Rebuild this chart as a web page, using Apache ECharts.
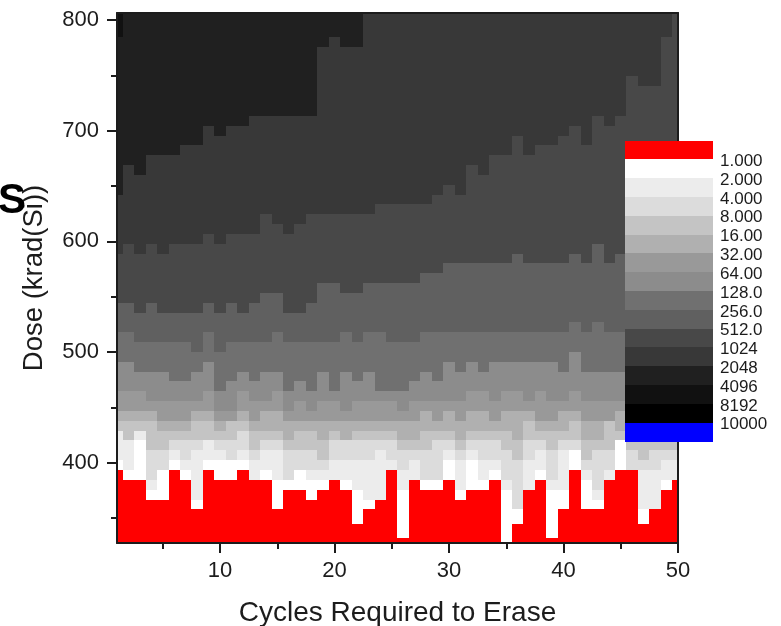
<!DOCTYPE html>
<html><head><meta charset="utf-8">
<style>html,body{margin:0;padding:0;background:#fff}#c{width:781px;height:626px}</style>
<script src="https://cdn.jsdelivr.net/npm/echarts@6/dist/echarts.min.js"></script>
</head><body><div id="c"></div>
<script>
const cycles = [1,2,3,4,5,6,7,8,9,10,11,12,13,14,15,16,17,18,19,20,21,22,23,24,25,26,27,28,29,30,31,32,33,34,35,36,37,38,39,40,41,42,43,44,45,46,47,48,49,50];
const doseMin = 327.5, doseMax = 806.3;
const rowIds = [-8,-7,-5.5,-4,-3,-2,-1,0,1,2,3,4,5,6,7,8,9,10,11,12,13,14,15,16,17,18,19,20,21,22,23,24,25,26,27,28,29,30,31,32,33,34,35,36,37,38,39,40,41,42,43,44,45,46,47];
const rowDoses = [327.5,332,344.6,357.8,366.7,375.6,384.5,393.4,402.3,411.2,420.1,429,437.8,446.7,455.6,464.5,473.4,482.3,491.2,500.1,509,517.8,526.7,535.6,544.5,553.4,562.3,571.2,580.1,589,597.8,606.7,615.6,624.5,633.4,642.3,651.2,660.1,669,677.8,686.7,695.6,704.5,713.4,722.3,731.2,740.1,749,757.8,766.7,775.6,784.5,793.4,802.3,806.3];
// top row of each contour band, per cycle column
const redTop = [0,-1,-1,-3,-3,0,-1,-4,0,-1, -1,0,-1,-1,-4,-2,-2,-3,-2,-1, -2,-5.5,-4,-3,0,-7,-1,-2,-2,-1, -3,-2,-2,-1,-8,-5.5,-2,-1,-7,-4, 0,-4,-4,-1,0,0,-5.5,-4,-2,-1];
const whiteTop = [1,0,3,-2,0,1,0,-3,1,1, 1,1,-1,0,-1,-1,0,-1,-1,-1, -1,-2,-3,-3,0,-2,-1,-1,-1,1, -2,1,-1,0,-2,-4,-2,0,-2,-2, 2,-1,-3,-1,3,0,-4,-4,-1,-1];
const g236Top = [4,3,4,-1,0,2,1,2,3,2, 1,2,1,2,2,-1,0,0,0,1, 1,1,1,2,1,0,1,-1,-1,2, 1,2,1,1,-1,-4,1,2,-1,2, 2,0,-2,0,3,0,0,0,1,1];
const g220Top = [4,3,4,2,2,3,3,3,3,3, 3,4,2,3,3,2,2,2,1,3, 3,3,3,3,3,2,2,2,3,3, 2,3,3,3,2,1,3,3,2,3, 3,1,2,2,3,2,1,2,2,2];
const g196Top = [5,5,5,5,4,4,4,5,5,4, 5,5,4,4,4,3,4,4,3,4, 3,4,4,4,4,3,3,4,4,4, 3,4,4,4,4,3,5,4,4,4, 5,3,3,5,4,4,4,4,4,4];
const g176Top = [6,6,6,6,5,5,5,6,6,5, 5,6,5,6,6,5,5,5,5,5, 5,5,5,5,5,5,5,6,5,6, 5,6,6,5,6,6,6,5,5,6, 6,5,5,5,6,5,5,5,5,5];
const g153Top = [8,8,8,7,7,7,7,7,8,6, 6,8,7,7,8,6,7,6,7,7, 6,7,7,7,7,6,7,7,7,7, 7,8,8,7,8,8,7,8,7,7, 8,7,7,7,7,7,7,7,7,7];
const g140Top = [11,11,10,10,10,9,9,10,11,8, 9,10,9,10,10,8,9,8,10,8, 10,9,10,8,8,8,9,10,9,11, 10,11,10,11,11,11,11,11,11,10, 12,10,10,10,10,10,10,10,10,10];
const g112Top = [14,14,13,13,13,13,13,12,14,12, 13,13,13,13,14,13,13,13,13,13, 14,13,14,14,13,13,13,14,14,14, 14,14,14,14,14,14,14,14,14,14, 15,14,15,14,14,14,14,14,14,14];
const g96Top = [17,17,16,17,16,16,16,16,17,16, 17,16,17,18,18,16,16,17,19,19, 18,18,19,19,19,19,19,20,20,21, 21,21,21,21,21,22,21,21,21,21, 22,21,23,21,22,22,22,22,22,22];
const g72Top = [22,23,22,23,22,23,23,23,24,23, 24,24,24,26,25,24,25,26,26,26, 26,26,26,27,27,27,27,27,28,29, 28,31,30,32,32,34,32,33,33,34, 35,33,36,35,36,40,39,39,44,47];
const g56Top = [28,31,30,32,32,32,33,33,35,34, 35,35,36,36,36,36,36,36,43,44, 43,43,47,47,47,47,47,47,47,47, 47,47,47,47,47,47,47,47,47,47, 47,47,47,47,47,47,47,47,47,47];
const g32Top = [44,47,47,47,47,47,47,47,47,47, 47,47,47,47,47,47,47,47,47,47, 47,47,47,47,47,47,47,47,47,47, 47,47,47,47,47,47,47,47,47,47, 47,47,47,47,47,47,47,47,47,47];
const g17Top = cycles.map(() => 47);
const bandTops = [g17Top,g32Top,g56Top,g72Top,g96Top,g112Top,g140Top,g153Top,g176Top,g196Top,g220Top,g236Top,whiteTop,redTop];
const bandColors = ['#111111','#202020','#383838','#484848','#606060','#707070','#8c8c8c','#999999','#b0b0b0','#c4c4c4','#dcdcdc','#ececec','#ffffff','#ff0000'];
const legendColors = ['#ff0000','#ffffff','#ececec','#dcdcdc','#c4c4c4','#b0b0b0','#999999','#8c8c8c','#707070','#606060','#484848','#383838','#202020','#111111','#000000','#0000ff'];
const legendLabels = ['1.000','2.000','4.000','8.000','16.00','32.00','64.00','128.0','256.0','512.0','1024','2048','4096','8192','10000'];
const xMajor = [10,20,30,40,50], xMinor = [5,15,25,35,45];
const yMajor = [400,500,600,700,800], yMinor = [350,450,550,650,750];

const cells = [];
bandTops.forEach((tops, b) => tops.forEach((row, i) => {
  cells.push([cycles[i], rowDoses[rowIds.indexOf(row)], b]);
}));
const font = '"Liberation Sans", Arial, sans-serif';
const ink = '#1c1c1c';
const hidden = {axisLine:{show:false},axisTick:{show:false},axisLabel:{show:false},splitLine:{show:false}};
const chart = echarts.init(document.getElementById('c'), null, {renderer:'canvas'});
chart.setOption({
  animation:false, backgroundColor:'#fff',
  title:{text:'S', left:-7, top:175, textStyle:{fontFamily:font,fontWeight:'bold',fontSize:42,color:'#000'}},
  grid:[
    {left:117,top:13,width:561,height:530,show:false,outerBoundsMode:'none'},
    {left:625,top:140.5,width:88,height:301,show:false,outerBoundsMode:'none'},
    {left:625,top:142.5,width:88,height:301,show:false,outerBoundsMode:'none'}
  ],
  xAxis:[
    {type:'value',gridIndex:0,min:1,max:50,position:'bottom',z:5,splitLine:{show:false},
     axisLine:{onZero:false,lineStyle:{color:ink,width:2}},
     axisTick:{customValues:xMajor,length:10,lineStyle:{color:ink,width:2}},
     axisLabel:{customValues:xMajor,fontFamily:font,fontSize:22,color:ink,margin:17},
     name:'Cycles Required to Erase',nameLocation:'middle',nameGap:56,nameTextStyle:{fontFamily:font,fontSize:28,color:ink}},
    {type:'value',gridIndex:0,min:1,max:50,position:'bottom',z:5,splitLine:{show:false},axisLine:{show:false,onZero:false},axisLabel:{show:false},
     axisTick:{customValues:xMinor,length:6,lineStyle:{color:ink,width:2}}},
    {type:'value',gridIndex:0,min:1,max:50,position:'top',z:5,splitLine:{show:false},axisTick:{show:false},axisLabel:{show:false},
     axisLine:{onZero:false,lineStyle:{color:ink,width:2}}},
    Object.assign({type:'value',gridIndex:1,min:0,max:1},hidden),
    Object.assign({type:'value',gridIndex:2,min:0,max:1},hidden)
  ],
  yAxis:[
    {type:'value',gridIndex:0,min:doseMin,max:doseMax,position:'left',z:5,splitLine:{show:false},
     axisLine:{onZero:false,lineStyle:{color:ink,width:2}},
     axisTick:{customValues:yMajor,length:10,lineStyle:{color:ink,width:2}},
     axisLabel:{customValues:yMajor,fontFamily:font,fontSize:22,color:ink,margin:18},
     name:'Dose (krad(Si))',nameLocation:'middle',nameGap:69,nameTextStyle:{fontFamily:font,fontSize:27.5,color:ink}},
    {type:'value',gridIndex:0,min:doseMin,max:doseMax,position:'left',z:5,splitLine:{show:false},axisLine:{show:false,onZero:false},axisLabel:{show:false},
     axisTick:{customValues:yMinor,length:6,lineStyle:{color:ink,width:2}}},
    {type:'value',gridIndex:0,min:doseMin,max:doseMax,position:'right',z:5,splitLine:{show:false},axisTick:{show:false},axisLabel:{show:false},
     axisLine:{onZero:false,lineStyle:{color:ink,width:2}}},
    Object.assign({type:'value',gridIndex:1,min:0,max:16,inverse:true},hidden),
    {type:'value',gridIndex:2,min:0,max:16,interval:1,inverse:true,position:'right',z:20,splitLine:{show:false},axisLine:{show:false},axisTick:{show:false},
     axisLabel:{show:true,margin:7,fontFamily:font,fontSize:17,color:ink,formatter:v=>legendLabels[v-1]||''}}
  ],
  series:[
    {type:'custom',xAxisIndex:0,yAxisIndex:0,z:2,clip:true,silent:true,data:cells,
     renderItem:(p,api)=>{
       const col=api.value(0),top=api.value(1),b=api.value(2);
       const a=api.coord([col-0.5,top]),c=api.coord([col+0.5,doseMin]);
       const x=Math.round(a[0]),y=Math.round(a[1]);
       return {type:'rect',shape:{x:x,y:y,width:Math.round(c[0])-x,height:Math.round(c[1])-y},style:{fill:bandColors[b]}};
     }},
    {type:'custom',xAxisIndex:3,yAxisIndex:3,z:10,silent:true,data:legendColors.map((c,i)=>[i]),
     renderItem:(p,api)=>{
       const i=api.value(0);
       const a=api.coord([0,i]),c=api.coord([1,i+1]);
       const x=Math.round(a[0]),y=Math.round(a[1]);
       return {type:'rect',shape:{x:x,y:y,width:Math.round(c[0])-x,height:Math.round(c[1])-y},style:{fill:legendColors[i]}};
     }}
  ]
});
</script></body></html>
